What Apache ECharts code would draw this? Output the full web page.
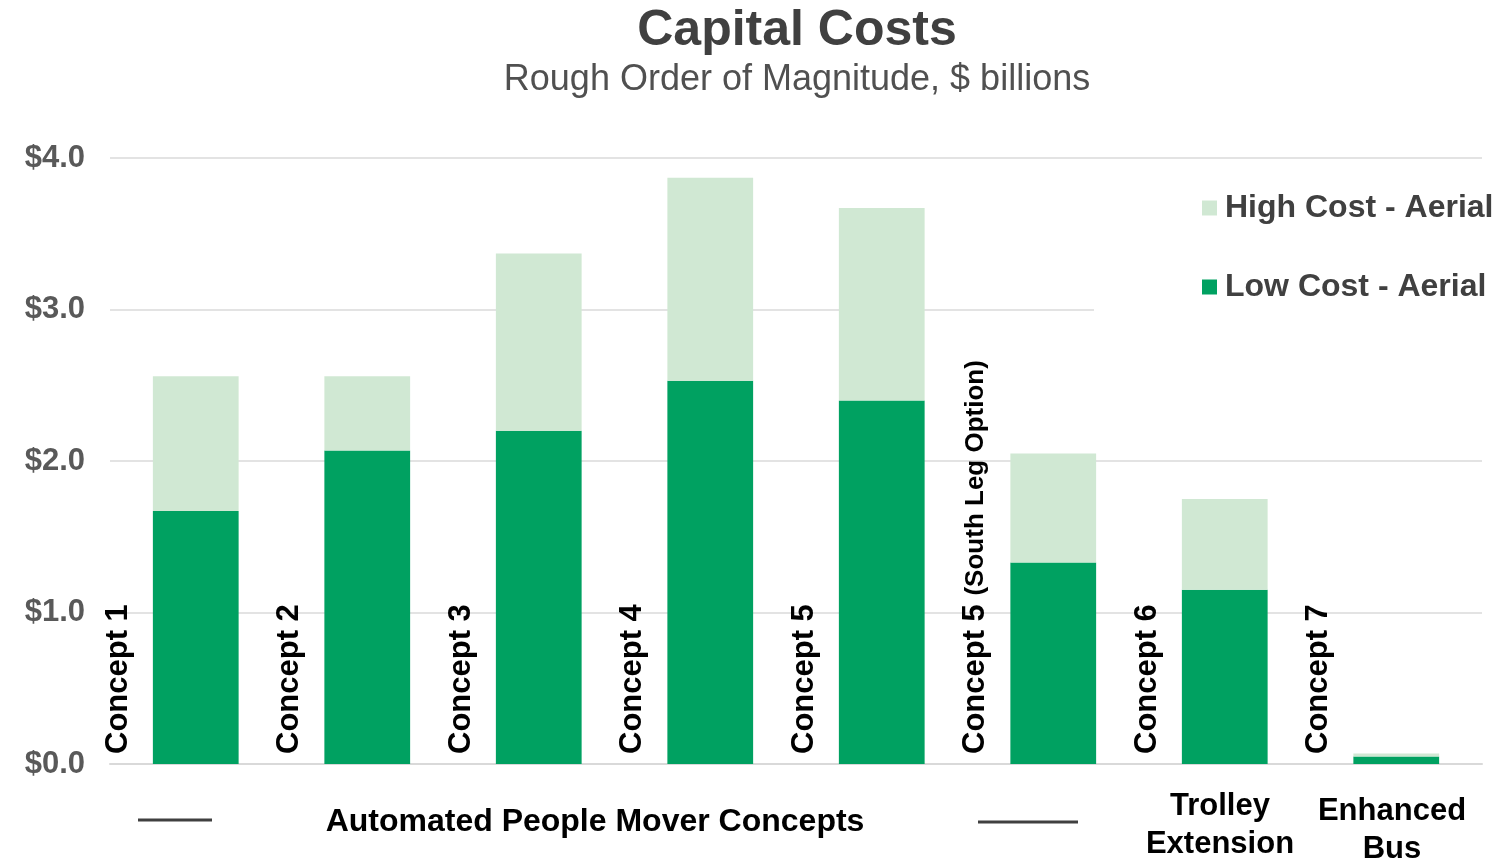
<!DOCTYPE html>
<html>
<head>
<meta charset="utf-8">
<title>Capital Costs</title>
<script src="https://cdn.jsdelivr.net/npm/echarts@6/dist/echarts.min.js"></script>
<style>
  html, body { margin: 0; padding: 0; background: #fff; }
  #chart { width: 1509px; height: 861px; }
</style>
</head>
<body>
<div id="chart"></div>
<script>
// Capital cost ranges by concept, $ billions (rough order of magnitude)
const categories = [
  'Concept 1', 'Concept 2', 'Concept 3', 'Concept 4', 'Concept 5',
  'Concept 5 (South Leg Option)', 'Concept 6', 'Concept 7'
];
// Low-cost aerial estimate (bottom of each bar)
const lowCost = [1.67, 2.07, 2.20, 2.53, 2.40, 1.33, 1.15, 0.05];
// Additional amount up to the high-cost aerial estimate (stacked on top)
const highCostIncrement = [0.89, 0.49, 1.17, 1.34, 1.27, 0.72, 0.60, 0.02];
const yTicks = [0, 1, 2, 3, 4];

const FONT = '"Liberation Sans", Arial, sans-serif';
const chart = echarts.init(document.getElementById('chart'));

// Rotated concept names sitting just left of each bar, read bottom-to-top
function renderConceptLabel(params, api) {
  const idx = api.value(0);
  const p = api.coord([idx, 0]);
  const size = api.size([1, 0]);
  const name = categories[idx];
  const m = name.match(/^(Concept \d+)(.*)$/);
  const text = m[2]
    ? '{a|' + m[1] + '}{s| }{b|' + m[2].trim() + '}'
    : '{a|' + name + '}';
  return {
    type: 'text',
    x: p[0] - size[0] * 0.453,
    y: p[1] - 10,
    rotation: Math.PI / 2,
    style: {
      text: text,
      align: 'left',
      verticalAlign: 'middle',
      fill: '#000',
      rich: {
        a: { fontFamily: FONT, fontWeight: 'bold', fontSize: 31, fill: '#000' },
        s: { fontFamily: FONT, fontWeight: 'bold', fontSize: 31, fill: '#000' },
        b: { fontFamily: FONT, fontWeight: 'bold', fontSize: 26, fill: '#000' }
      }
    }
  };
}

const option = {
  backgroundColor: '#fff',
  animation: false,
  title: [
    {
      text: 'Capital Costs',
      left: 792, top: 1, textAlign: 'center',
      textStyle: { fontFamily: FONT, fontWeight: 'bold', fontSize: 50, color: '#404040' }
    },
    {
      text: 'Rough Order of Magnitude, $ billions',
      left: 792, top: 57, textAlign: 'center',
      textStyle: { fontFamily: FONT, fontWeight: 'normal', fontSize: 36, color: '#505050' }
    }
  ],
  legend: {
    orient: 'vertical',
    left: 1094, top: 180,
    padding: [12, 16, 16, 108],
    backgroundColor: '#fff',
    itemWidth: 15, itemHeight: 15, itemGap: 47,
    icon: 'rect',
    data: ['High Cost - Aerial', 'Low Cost - Aerial'],
    textStyle: { fontFamily: FONT, fontWeight: 'bold', fontSize: 32, color: '#404040', padding: [0, 0, 0, 3] },
    z: 5
  },
  grid: { left: 110, right: 27, top: 158, bottom: 97 },
  xAxis: {
    type: 'category',
    data: categories,
    axisLine: { show: true, lineStyle: { color: '#d9d9d9', width: 2 } },
    axisTick: { show: false },
    axisLabel: { show: false }
  },
  yAxis: {
    type: 'value',
    min: yTicks[0], max: yTicks[yTicks.length - 1], interval: 1,
    axisLine: { show: false },
    axisTick: { show: false },
    splitLine: { lineStyle: { color: '#e3e3e3', width: 2 } },
    axisLabel: {
      margin: 25,
      fontFamily: FONT, fontWeight: 'bold', fontSize: 31, color: '#595959',
      formatter: v => '$' + v.toFixed(1)
    }
  },
  series: [
    {
      name: 'Low Cost - Aerial',
      type: 'bar', stack: 'cost',
      barWidth: '50%',
      itemStyle: { color: '#00a161' },
      data: lowCost
    },
    {
      name: 'High Cost - Aerial',
      type: 'bar', stack: 'cost',
      barWidth: '50%',
      itemStyle: { color: '#d0e8d3' },
      data: highCostIncrement
    },
    {
      name: 'concept-labels',
      type: 'custom',
      renderItem: renderConceptLabel,
      data: categories.map((c, i) => [i, 0]),
      z: 4,
      silent: true
    }
  ],
  graphic: [
    // Group heading under the APM concepts, flanked by short rules
    { type: 'line', shape: { x1: 138, y1: 820, x2: 212, y2: 820 }, style: { stroke: '#404040', lineWidth: 3 } },
    { type: 'line', shape: { x1: 978, y1: 822, x2: 1078, y2: 822 }, style: { stroke: '#404040', lineWidth: 3 } },
    {
      type: 'text', x: 595, y: 822,
      style: { text: 'Automated People Mover Concepts', align: 'center', verticalAlign: 'middle',
               font: 'bold 32px ' + FONT, fill: '#000' }
    },
    {
      type: 'text', x: 1220, y: 825,
      style: { text: 'Trolley\nExtension', align: 'center', verticalAlign: 'middle', lineHeight: 38,
               font: 'bold 31px ' + FONT, fill: '#000' }
    },
    {
      type: 'text', x: 1392, y: 830,
      style: { text: 'Enhanced\nBus', align: 'center', verticalAlign: 'middle', lineHeight: 38,
               font: 'bold 31px ' + FONT, fill: '#000' }
    }
  ]
};

chart.setOption(option);
</script>
</body>
</html>
